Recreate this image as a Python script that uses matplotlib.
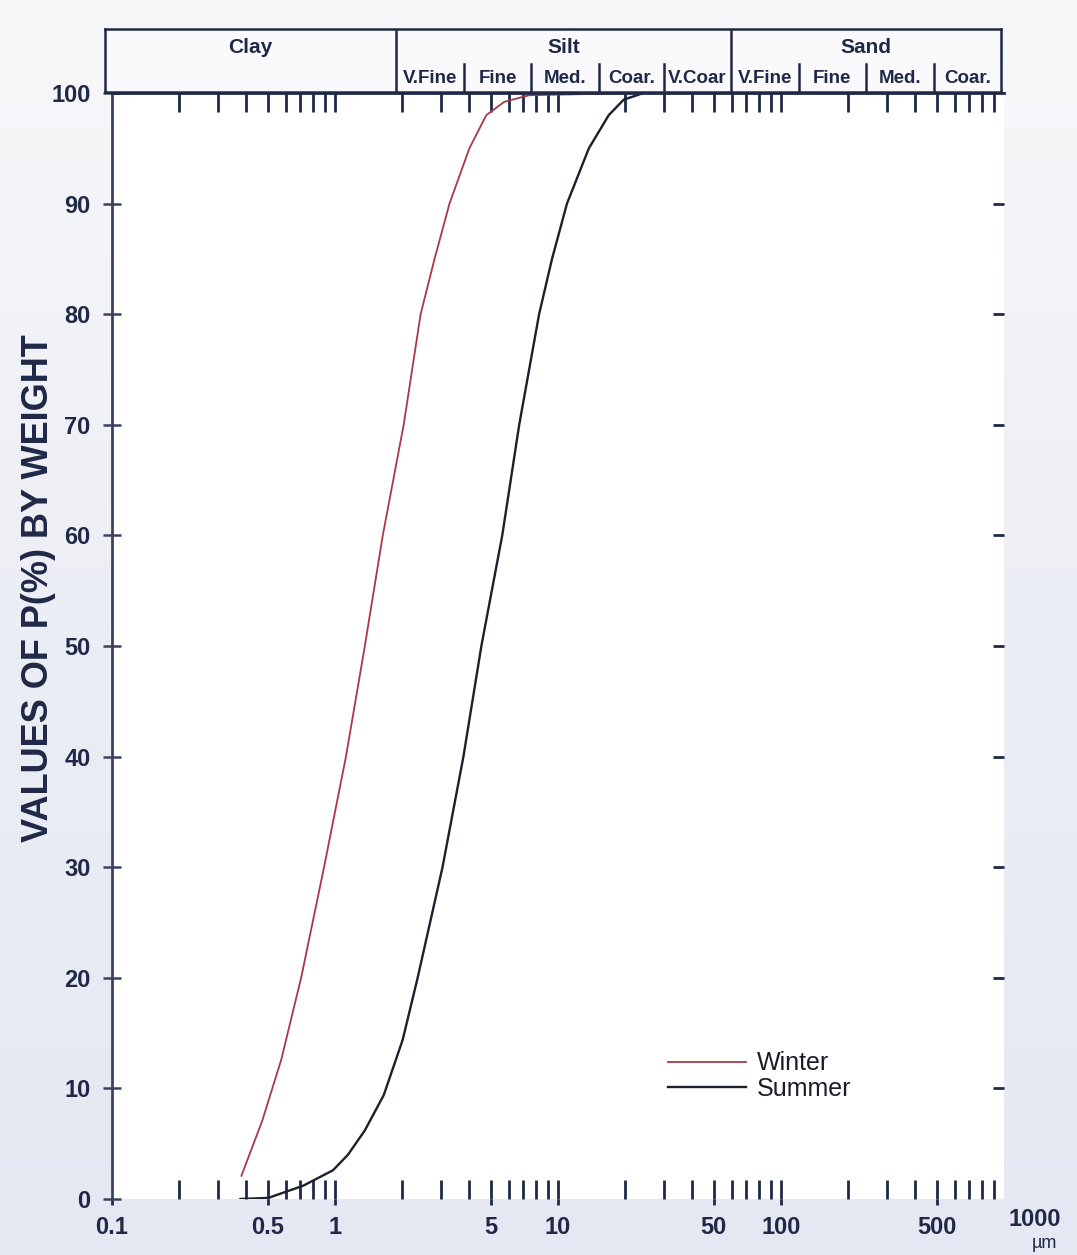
import numpy as np
import matplotlib
matplotlib.use('Agg')
import matplotlib.pyplot as plt
from matplotlib.ticker import FixedLocator, NullLocator
from matplotlib.colors import LinearSegmentedColormap

# grain size (um) vs cumulative percent
winter_size = [0.3805, 0.4722, 0.5741, 0.7049, 0.8931, 1.1197, 1.3608, 1.6378,
               2.0324, 2.4207, 2.7954, 3.2618, 4.0057, 4.7712, 5.7411, 7.4229, 22.99]
winter_pct = [2.1, 7.1, 12.6, 20.0, 30.0, 40.0, 50.0, 60.0,
              70.0, 80.0, 85.0, 90.0, 95.0, 98.0, 99.2, 99.8, 100.0]

summer_size = [0.3766, 0.5023, 0.7199, 0.9797, 1.1429, 1.3608, 1.6548, 2.0118,
               2.3474, 3.0347, 3.7658, 4.5323, 5.6234, 6.6988, 8.2273, 9.4015,
               10.970, 13.753, 16.894, 19.707, 24.208]
summer_pct = [0.0, 0.1, 1.2, 2.6, 4.0, 6.2, 9.4, 14.4,
              20.0, 30.0, 40.0, 50.0, 60.0, 70.0, 80.0, 85.0,
              90.0, 95.0, 98.0, 99.4, 100.0]

series_names = ['Winter', 'Summer']

# axis ticks
x_major = [0.1, 0.5, 1, 5, 10, 50, 100, 500]
x_major_labels = ['0.1', '0.5', '1', '5', '10', '50', '100', '500']
x_minor = [m * 10.0 ** e for e in range(-1, 3) for m in range(2, 10)] + [1, 10, 100]
y_major = list(range(0, 101, 10))
y_right = list(range(10, 100, 10))

# size classes for the header band
class_names = ['Clay', 'Silt', 'Sand']
class_edges = [0.1, 2, 62.5, 1000]
sub_names = ['V.Fine', 'Fine', 'Med.', 'Coar.', 'V.Coar',
             'V.Fine', 'Fine', 'Med.', 'Coar.']
sub_edges = [2, 4, 8, 16, 31.25, 62.5, 125, 250, 500, 1000]

navy = '#1f2947'
red = '#a83848'
dark = '#1c1f2c'
narrow = ['Liberation Sans Narrow', 'Liberation Sans', 'DejaVu Sans']
sans = ['Liberation Sans', 'DejaVu Sans']

W, H = 1077, 1255
fig = plt.figure(figsize=(W / 100, H / 100), dpi=100, facecolor='#eceef5')

# scanned-paper background, whiter at the top
bg = fig.add_axes([0, 0, 1, 1], zorder=-10)
cmap = LinearSegmentedColormap.from_list('paper', ['#f8f8fa', '#eceef5', '#e5e8f2'])
bg.imshow(np.linspace(0, 1, 256).reshape(-1, 1), cmap=cmap, aspect='auto',
          extent=[0, 1, 0, 1], origin='upper')
bg.axis('off')


def px(x0, y0, x1, y1):
    return [x0 / W, 1 - y1 / H, (x1 - x0) / W, (y1 - y0) / H]


# main plot
ax = fig.add_axes(px(112, 93, 1004, 1199))
ax.set_facecolor('white')
ax.set_xscale('log')
ax.set_xlim(0.1, 1000)
ax.set_ylim(0, 100)

ax.plot(winter_size, winter_pct, color=red, lw=1.3, label=series_names[0])
ax.plot(summer_size, summer_pct, color=dark, lw=1.7, label=series_names[1])

for s in ['right', 'bottom']:
    ax.spines[s].set_visible(False)
ax.spines['left'].set_color('#3a4262')
ax.spines['left'].set_linewidth(2)
ax.spines['top'].set_color(navy)
ax.spines['top'].set_linewidth(2)

ax.xaxis.set_major_locator(FixedLocator(x_major))
ax.set_xticklabels(x_major_labels)
ax.xaxis.set_minor_locator(FixedLocator(x_minor))
ax.xaxis.remove_overlapping_locs = False
ax.tick_params(axis='x', which='major', direction='out', length=4, width=2,
               color=navy, pad=8, labelsize=17, labelcolor=navy)
ax.tick_params(axis='x', which='minor', direction='in', length=14, width=2,
               color=navy, top=True, bottom=True, labelbottom=False)
for lab in ax.get_xticklabels():
    lab.set_family(narrow)
    lab.set_fontweight('bold')

ax.set_yticks(y_major)
ax.tick_params(axis='y', which='major', direction='inout', length=13, width=1.8,
               color='#3a4262', pad=9, labelsize=17, labelcolor=navy)
for lab in ax.get_yticklabels():
    lab.set_family(narrow)
    lab.set_fontweight('bold')

ax2 = ax.secondary_yaxis('right')
ax2.set_yticks(y_right)
ax2.tick_params(direction='in', length=8, width=2, color=navy, labelright=False)
ax2.spines['right'].set_visible(False)

ax.annotate('1000', xy=(1000, 0), xycoords=('data', 'axes fraction'),
            xytext=(31, -21), textcoords='offset pixels', ha='center', va='center',
            fontsize=17, fontweight='bold', family=narrow, color=navy,
            annotation_clip=False)
ax.annotate('\u00b5m', xy=(1000, 0), xycoords=('data', 'axes fraction'),
            xytext=(40, -44), textcoords='offset pixels', ha='center', va='center',
            fontsize=13, family=sans, color=navy, annotation_clip=False)

fig.text(39 / W, 1 - 588 / H, 'VALUES OF P(%) BY WEIGHT', rotation=90,
         ha='center', va='center', fontsize=26, fontweight='bold',
         family=sans, color=navy)

leg = ax.legend(loc='center left', bbox_to_anchor=((668 - 112) / 892, (1199 - 1076) / 1106),
                frameon=False, handlelength=3.1, handletextpad=0.45,
                labelspacing=0.05, borderpad=0, borderaxespad=0,
                prop={'family': sans, 'size': 18})
for t in leg.get_texts():
    t.set_color('#1a1c28')

# header band with size classes
hax = fig.add_axes(px(105, 29, 1001, 92))
hax.set_xscale('log')
hax.set_xlim(0.1, 1000)
hax.set_ylim(0, 1)
hax.set_facecolor('#fafafc')
hax.set_xticks([])
hax.set_yticks([])
hax.xaxis.set_minor_locator(NullLocator())
for s in hax.spines.values():
    s.set_color(navy)
    s.set_linewidth(1.8)

for b in class_edges[1:-1]:
    hax.axvline(b, color=navy, lw=1.8)
for b in sub_edges[1:-1]:
    if b not in class_edges:
        hax.axvline(b, ymax=0.45, color=navy, lw=1.8)

for i, name in enumerate(class_names):
    xc = np.sqrt(class_edges[i] * class_edges[i + 1])
    hax.text(xc, 0.71, name, ha='center', va='center', fontsize=15,
             fontweight='bold', family=sans, color=navy)
for i, name in enumerate(sub_names):
    xc = np.sqrt(sub_edges[i] * sub_edges[i + 1])
    hax.text(xc, 0.22, name, ha='center', va='center', fontsize=13.5,
             fontweight='bold', family=sans, color=navy)

fig.savefig('out.png', dpi=100, facecolor=fig.get_facecolor())
